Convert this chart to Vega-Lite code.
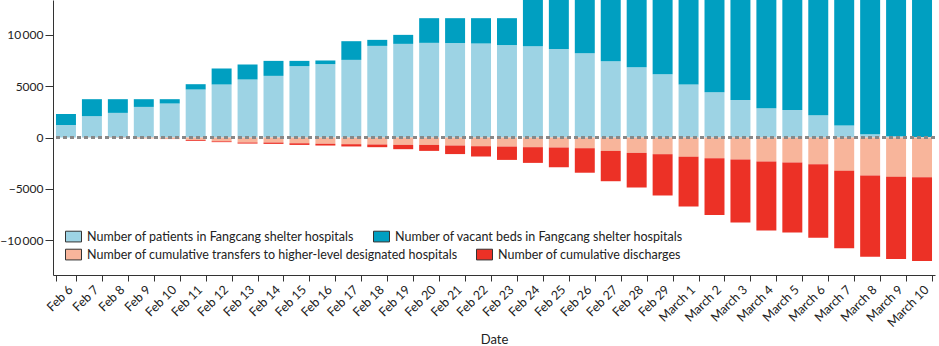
{
  "$schema": "https://vega.github.io/schema/vega-lite/v6.json",
  "width": 882,
  "height": 275,
  "autosize": {"type": "none"},
  "padding": {"left": 53, "top": 0, "right": 4, "bottom": 71},
  "background": "white",
  "config": {
    "font": "Lato",
    "view": {"stroke": null},
    "axis": {"domainColor": "#333", "tickColor": "#333", "labelColor": "#222", "titleColor": "#222", "labelFont": "Lato", "titleFont": "Lato", "titleFontWeight": "normal", "grid": false},
    "legend": {"title": null, "orient": "none", "columns": 2, "direction": "horizontal", "columnPadding": 16, "padding": 0,
      "symbolType": "M-1,-0.67H1V0.67H-1Z", "symbolSize": 256, "symbolStrokeColor": "#333", "symbolStrokeWidth": 1,
      "labelFontSize": 12.5, "labelColor": "#222", "labelLimit": 600, "labelOffset": 5}
  },
  "data": {
    "values": [
      {"date": "Feb 6", "patients": 1225, "vacant_beds": 1045, "cum_transfers": 0, "discharged": 0},
      {"date": "Feb 7", "patients": 2070, "vacant_beds": 1650, "cum_transfers": -20, "discharged": 0},
      {"date": "Feb 8", "patients": 2390, "vacant_beds": 1330, "cum_transfers": -40, "discharged": 0},
      {"date": "Feb 9", "patients": 2970, "vacant_beds": 750, "cum_transfers": -100, "discharged": 0},
      {"date": "Feb 10", "patients": 3300, "vacant_beds": 420, "cum_transfers": -140, "discharged": -10},
      {"date": "Feb 11", "patients": 4660, "vacant_beds": 515, "cum_transfers": -250, "discharged": -80},
      {"date": "Feb 12", "patients": 5146, "vacant_beds": 1554, "cum_transfers": -370, "discharged": -80},
      {"date": "Feb 13", "patients": 5632, "vacant_beds": 1456, "cum_transfers": -485, "discharged": -105},
      {"date": "Feb 14", "patients": 5983, "vacant_beds": 1457, "cum_transfers": -490, "discharged": -130},
      {"date": "Feb 15", "patients": 6923, "vacant_beds": 517, "cum_transfers": -560, "discharged": -160},
      {"date": "Feb 16", "patients": 7118, "vacant_beds": 359, "cum_transfers": -610, "discharged": -170},
      {"date": "Feb 17", "patients": 7537, "vacant_beds": 1813, "cum_transfers": -650, "discharged": -220},
      {"date": "Feb 18", "patients": 8896, "vacant_beds": 584, "cum_transfers": -680, "discharged": -260},
      {"date": "Feb 19", "patients": 9090, "vacant_beds": 875, "cum_transfers": -715, "discharged": -420},
      {"date": "Feb 20", "patients": 9189, "vacant_beds": 2396, "cum_transfers": -720, "discharged": -580},
      {"date": "Feb 21", "patients": 9160, "vacant_beds": 2425, "cum_transfers": -780, "discharged": -830},
      {"date": "Feb 22", "patients": 9127, "vacant_beds": 2458, "cum_transfers": -845, "discharged": -1000},
      {"date": "Feb 23", "patients": 8965, "vacant_beds": 2620, "cum_transfers": -880, "discharged": -1295},
      {"date": "Feb 24", "patients": 8865, "vacant_beds": 5135, "cum_transfers": -940, "discharged": -1525},
      {"date": "Feb 25", "patients": 8603, "vacant_beds": 5497, "cum_transfers": -960, "discharged": -1925},
      {"date": "Feb 26", "patients": 8186, "vacant_beds": 6014, "cum_transfers": -1040, "discharged": -2380},
      {"date": "Feb 27", "patients": 7409, "vacant_beds": 6891, "cum_transfers": -1300, "discharged": -2945},
      {"date": "Feb 28", "patients": 6826, "vacant_beds": 7574, "cum_transfers": -1495, "discharged": -3360},
      {"date": "Feb 29", "patients": 6146, "vacant_beds": 8254, "cum_transfers": -1620, "discharged": -4010},
      {"date": "March 1", "patients": 5146, "vacant_beds": 9254, "cum_transfers": -1880, "discharged": -4820},
      {"date": "March 2", "patients": 4399, "vacant_beds": 10001, "cum_transfers": -2010, "discharged": -5505},
      {"date": "March 3", "patients": 3651, "vacant_beds": 10749, "cum_transfers": -2140, "discharged": -6115},
      {"date": "March 4", "patients": 2845, "vacant_beds": 11555, "cum_transfers": -2330, "discharged": -6700},
      {"date": "March 5", "patients": 2680, "vacant_beds": 11720, "cum_transfers": -2430, "discharged": -6795},
      {"date": "March 6", "patients": 2165, "vacant_beds": 12235, "cum_transfers": -2590, "discharged": -7155},
      {"date": "March 7", "patients": 1165, "vacant_beds": 13235, "cum_transfers": -3240, "discharged": -7510},
      {"date": "March 8", "patients": 320, "vacant_beds": 14080, "cum_transfers": -3690, "discharged": -7900},
      {"date": "March 9", "patients": 120, "vacant_beds": 14280, "cum_transfers": -3820, "discharged": -7970},
      {"date": "March 10", "patients": 40, "vacant_beds": 14360, "cum_transfers": -3855, "discharged": -8125}
    ]
  },
  "layer": [
    {
      "transform": [{"fold": ["patients", "vacant_beds"], "as": ["series", "value"]}],
      "mark": {"type": "bar", "clip": true},
      "encoding": {
        "x": {
          "field": "date", "type": "ordinal", "sort": null,
          "scale": {"paddingInner": 0.23, "paddingOuter": 0.115},
          "axis": {"title": "Date", "labelAngle": -45, "labelFontSize": 12.5, "tickBand": "extent", "tickSize": 6, "labelPadding": 2, "titleFontSize": 13, "titlePadding": 4}
        },
        "y": {
          "field": "value", "type": "quantitative", "stack": "zero",
          "scale": {"domain": [-13350, 13350], "nice": false, "zero": false},
          "axis": {"title": null, "values": [-10000, -5000, 0, 5000, 10000], "tickSize": 8, "labelFontSize": 12, "labelPadding": 2,
            "labelExpr": "abs(datum.value) >= 10000 ? replace(format(datum.value, ','), ',', '\u2009') : format(datum.value, 'd')"}
        },
        "order": {"field": "series", "sort": "ascending"},
        "color": {
          "field": "series", "type": "nominal",
          "scale": {"domain": ["patients", "vacant_beds"], "range": ["#9dd3e4", "#009fc1"]},
          "legend": {
            "legendX": 12, "legendY": 228,
            "labelExpr": "datum.value == 'patients' ? 'Number of patients in Fangcang shelter hospitals' : 'Number of vacant beds in Fangcang shelter hospitals'"
          }
        }
      }
    },
    {
      "transform": [{"fold": ["cum_transfers", "discharged"], "as": ["series", "value"]}],
      "mark": {"type": "bar", "clip": true},
      "encoding": {
        "x": {"field": "date", "type": "ordinal", "sort": null},
        "y": {"field": "value", "type": "quantitative", "stack": "zero"},
        "order": {"field": "series", "sort": "ascending"},
        "fill": {
          "field": "series", "type": "nominal",
          "scale": {"domain": ["cum_transfers", "discharged"], "range": ["#f8b59b", "#ec3126"]},
          "legend": {
            "legendX": 12, "legendY": 246,
            "labelExpr": "datum.value == 'cum_transfers' ? 'Number of cumulative transfers to higher-level designated hospitals' : 'Number of cumulative discharges'"
          }
        }
      }
    },
    {
      "mark": {"type": "rule", "color": "#888", "strokeDash": [4, 3], "strokeWidth": 1.3},
      "encoding": {"y": {"datum": 0}}
    }
  ]
}
